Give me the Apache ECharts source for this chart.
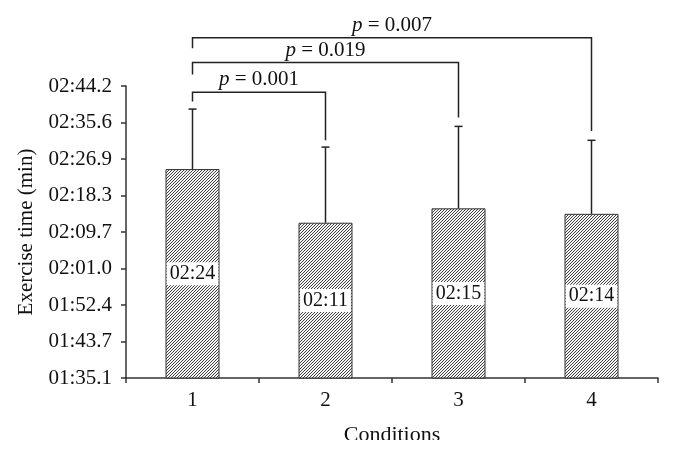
<!DOCTYPE html>
<html>
<head>
<meta charset="utf-8">
<script src="https://cdn.jsdelivr.net/npm/echarts@6/dist/echarts.min.js"></script>
<style>
html,body{margin:0;padding:0;background:#fff;}
#chart{width:684px;height:453px;}
</style>
</head>
<body>
<div id="chart"></div>
<script>
// ---- data (seconds) ----
const categories = ['1', '2', '3', '4'];
const meanSeconds = [144.5, 131.8, 135.2, 133.9];
const barLabels = ['02:24', '02:11', '02:15', '02:14'];
const errorTopSeconds = [158.7, 149.7, 154.6, 151.3];
const yTickLabels = ['01:35.1', '01:43.7', '01:52.4', '02:01.0', '02:09.7', '02:18.3', '02:26.9', '02:35.6', '02:44.2'];
// brackets: from category, to category, level, left leg end, right leg end (seconds)
const bracketFrom = [0, 0, 0];
const bracketTo = [1, 2, 3];
const bracketLevel = [162.7, 169.7, 175.6];
const bracketLeftEnd = [160.5, 166.9, 173.1];
const bracketRightEnd = [151.3, 156.7, 153.5];
const bracketText = ['0.001', '0.019', '0.007'];

const yMin = 95.04, yMax = 164.16, yStep = 8.64;

// hatch pattern
const pc = document.createElement('canvas');
pc.width = 3; pc.height = 3;
const pctx = pc.getContext('2d');
pctx.fillStyle = '#f4f4f4';
pctx.fillRect(0, 0, 3, 3);
pctx.fillStyle = '#444444';
pctx.fillRect(2, 0, 1, 1);
pctx.fillRect(1, 1, 1, 1);
pctx.fillRect(0, 2, 1, 1);

const FONT = '"Liberation Serif", "DejaVu Serif", serif';

const chart = echarts.init(document.getElementById('chart'), null, {renderer: 'canvas'});

const errData = categories.map((c, i) => [i, meanSeconds[i], errorTopSeconds[i]]);
const brData = bracketFrom.map((f, i) => [f, bracketTo[i], bracketLevel[i], bracketLeftEnd[i], bracketRightEnd[i], i]);

chart.setOption({
  animation: false,
  backgroundColor: '#fff',
  grid: {left: 126, right: 26, top: 86, bottom: 75},
  xAxis: {
    type: 'category',
    data: categories,
    name: 'Conditions',
    nameLocation: 'middle',
    nameGap: 46,
    nameTextStyle: {fontFamily: FONT, fontSize: 22, color: '#111', verticalAlign: 'top'},
    axisLine: {lineStyle: {color: '#333', width: 1.5}},
    axisTick: {show: true, length: 5, lineStyle: {color: '#333', width: 1.5}},
    axisLabel: {fontFamily: FONT, fontSize: 21, color: '#111', margin: 12}
  },
  yAxis: {
    type: 'value',
    min: yMin, max: yMax, interval: yStep,
    name: 'Exercise time (min)',
    nameLocation: 'middle',
    nameGap: 89,
    nameTextStyle: {fontFamily: FONT, fontSize: 21, color: '#111'},
    axisLine: {show: true, lineStyle: {color: '#333', width: 1.5}},
    axisTick: {show: true, length: 5, lineStyle: {color: '#333', width: 1.5}},
    splitLine: {show: false},
    axisLabel: {
      fontFamily: FONT, fontSize: 21, color: '#111', margin: 14,
      formatter: function (v) {
        const idx = Math.round((v - yMin) / yStep);
        return yTickLabels[idx] || '';
      }
    }
  },
  series: [
    {
      type: 'bar',
      data: meanSeconds,
      barWidth: 54,
      itemStyle: {color: {image: pc, repeat: 'repeat'}, borderColor: '#333', borderWidth: 1},
      label: {
        show: true,
        position: 'inside',
        formatter: p => barLabels[p.dataIndex],
        fontFamily: FONT, fontSize: 20, color: '#111',
        backgroundColor: '#fff',
        padding: [2, 3, 1, 3]
      },
      z: 2
    },
    {
      type: 'custom',
      data: errData,
      z: 3,
      renderItem: function (params, api) {
        const x = api.value(0);
        const b = api.coord([x, api.value(1)]);
        const t = api.coord([x, api.value(2)]);
        const st = {stroke: '#222', lineWidth: 1.5};
        return {
          type: 'group',
          children: [
            {type: 'line', shape: {x1: b[0], y1: b[1], x2: t[0], y2: t[1]}, style: st},
            {type: 'line', shape: {x1: t[0] - 4, y1: t[1], x2: t[0] + 4, y2: t[1]}, style: st}
          ]
        };
      }
    },
    {
      type: 'custom',
      data: brData,
      clip: false,
      z: 3,
      renderItem: function (params, api) {
        const a = api.coord([api.value(0), api.value(2)]);
        const b = api.coord([api.value(1), api.value(2)]);
        const la = api.coord([api.value(0), api.value(3)]);
        const rb = api.coord([api.value(1), api.value(4)]);
        const st = {stroke: '#222', lineWidth: 1.5};
        const idx = api.value(5);
        return {
          type: 'group',
          children: [
            {type: 'polyline', shape: {points: [[la[0], la[1]], [a[0], a[1]], [b[0], b[1]], [rb[0], rb[1]]]}, style: Object.assign({fill: null}, st)},
            {type: 'text', x: (a[0] + b[0]) / 2, y: a[1] - 2,
              style: {
                text: '{i|p} = ' + bracketText[idx],
                rich: {i: {fontStyle: 'italic', fontFamily: FONT, fontSize: 21, fill: '#111'}},
                fontFamily: FONT, fontSize: 21, fill: '#111',
                align: 'center', verticalAlign: 'bottom'
              }}
          ]
        };
      }
    }
  ],
  graphic: [
    {type: 'rect', left: 0, top: 440, shape: {width: 684, height: 13}, style: {fill: '#fff'}, z: 100}
  ]
});
</script>
</body>
</html>
